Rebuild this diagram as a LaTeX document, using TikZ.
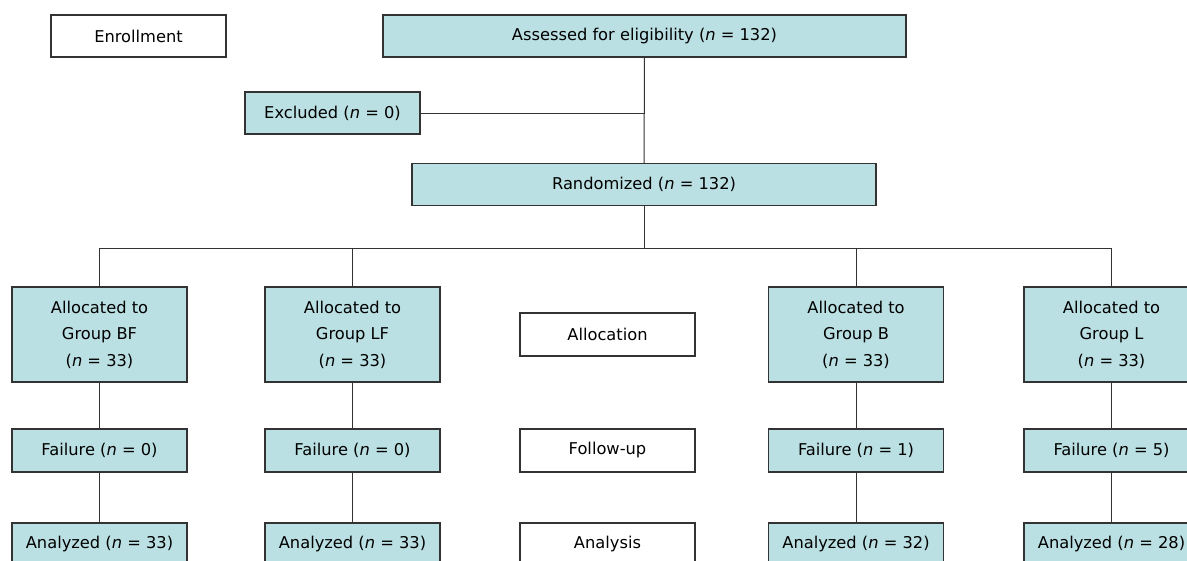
\documentclass[tikz,border=0pt]{standalone}
\usepackage{fontspec}
\setmainfont{DejaVu Sans}
\usepackage{tikz}
\usetikzlibrary{calc}
\usetikzlibrary{positioning}
\definecolor{fc-fill}{HTML}{BBE0E3}
\definecolor{fc-line}{HTML}{333333}

\begin{document}
\begin{tikzpicture}[x=0.75pt, y=-0.75pt,
    flowbox/.style={draw=fc-line, fill=fc-fill, line width=0.9pt, minimum width=175*0.75pt, minimum height=42*0.75pt, inner sep=0pt, align=center, font=\fontsize{12.2}{19.9}\selectfont},
    stagebox/.style={flowbox, fill=white},
    link/.style={draw=fc-line, line width=0.75pt}]
    \useasboundingbox (0,0) rectangle (1187,560);
    % enrollment
    \node[stagebox] (enroll) at (138.5,36) {Enrollment};
    \node[flowbox, minimum width=523*0.75pt] (assess) at (644.5,36) {Assessed for eligibility (\textit{n} = 132)};
    \node[flowbox] (excl) at (332.5,113) {Excluded (\textit{n} = 0)};
    \node[flowbox, minimum width=464*0.75pt] (rand) at (644,184.5) {Randomized (\textit{n} = 132)};
    % allocation
    \node[flowbox, minimum height=95*0.75pt] (allocBF) at (99.5,334.5) {Allocated to\\Group BF\\(\textit{n} = 33)};
    \node[flowbox, minimum height=95*0.75pt] (allocLF) at (352.5,334.5) {Allocated to\\Group LF\\(\textit{n} = 33)};
    \node[stagebox, minimum height=43*0.75pt] (allocation) at (607.5,334.5) {Allocation};
    \node[flowbox, minimum height=95*0.75pt] (allocB) at (856,334.5) {Allocated to\\Group B\\(\textit{n} = 33)};
    \node[flowbox, minimum height=95*0.75pt] (allocL) at (1111.5,334.5) {Allocated to\\Group L\\(\textit{n} = 33)};
    % follow-up
    \node[flowbox, minimum height=43*0.75pt] (failBF) at (99.5,450.5) {Failure (\textit{n} = 0)};
    \node[flowbox, minimum height=43*0.75pt] (failLF) at (352.5,450.5) {Failure (\textit{n} = 0)};
    \node[stagebox, minimum height=43*0.75pt] (followup) at (607.5,450.5) {Follow-up};
    \node[flowbox, minimum height=43*0.75pt] (failB) at (856,450.5) {Failure (\textit{n} = 1)};
    \node[flowbox, minimum height=43*0.75pt] (failL) at (1111.5,450.5) {Failure (\textit{n} = 5)};
    % analysis
    \node[flowbox, minimum height=43*0.75pt] (anaBF) at (99.5,544.5) {Analyzed (\textit{n} = 33)};
    \node[flowbox, minimum height=43*0.75pt] (anaLF) at (352.5,544.5) {Analyzed (\textit{n} = 33)};
    \node[stagebox, minimum height=43*0.75pt] (analysis) at (607.5,544.5) {Analysis};
    \node[flowbox, minimum height=43*0.75pt] (anaB) at (856,544.5) {Analyzed (\textit{n} = 32)};
    \node[flowbox, minimum height=43*0.75pt] (anaL) at (1111.5,544.5) {Analyzed (\textit{n} = 28)};
    % connectors
    \coordinate (split) at (assess.south |- excl.east);
    \coordinate (bus) at ($(rand.south)+(0,42)$);
    \draw[link] (assess) -- (rand);
    \draw[link] (excl) -- (split);
    \draw[link] (rand) -- (bus);
    \draw[link] (allocBF.north |- bus) -- (allocL.north |- bus);
    \foreach \grp in {BF,LF,B,L} {
        \draw[link] (alloc\grp.north |- bus) -- (alloc\grp.north);
        \draw[link] (alloc\grp) -- (fail\grp);
        \draw[link] (fail\grp) -- (ana\grp);
    }
\end{tikzpicture}
\end{document}
